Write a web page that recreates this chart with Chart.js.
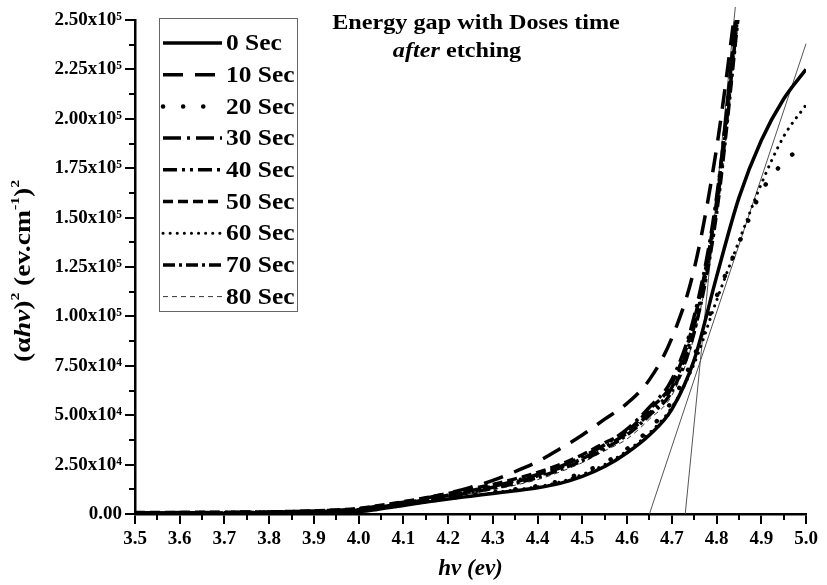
<!DOCTYPE html>
<html>
<head>
<meta charset="utf-8">
<script src="https://cdn.jsdelivr.net/npm/chart.js@4.4.1/dist/chart.umd.min.js"></script>
<style>
  html, body { margin: 0; padding: 0; background: #fff; }
  #wrap { width: 827px; height: 585px; }
</style>
</head>
<body>
<div id="wrap"><canvas id="gapChart" width="827" height="585"></canvas></div>
<script>
// photon energy hv (ev)
const energy = [3.50, 3.55, 3.60, 3.65, 3.70, 3.75, 3.80, 3.85, 3.90, 3.95, 4.00,
                4.05, 4.10, 4.15, 4.20, 4.25, 4.30, 4.35, 4.40, 4.45,
                4.50, 4.55, 4.60, 4.65, 4.70, 4.75, 4.80, 4.85, 4.90, 4.95, 5.00];

// (alpha hv)^2 for each dose time
const sec0  = [200, 220, 250, 280, 320, 360, 420, 500, 620, 800, 1200,
               2600, 4300, 6000, 7600, 9000, 10400, 11800, 13300, 15500,
               19000, 24000, 31000, 40000, 53000, 78000, 120000, 160000, 189000, 210000, 225000];
const sec10 = [600, 650, 700, 750, 800, 900, 1000, 1200, 1500, 1900, 2500,
               4200, 6000, 8000, 10500, 13500, 17000, 21500, 26500, 33000,
               40000, 48000, 56000, 68000, 89000, 124000, 185000, 270000, null, null, null];
const sec20 = [300, 320, 350, 380, 420, 470, 540, 630, 760, 950, 1500,
               2900, 4700, 6400, 8000, 9500, 11000, 12500, 14200, 16800,
               21000, 26000, 33000, 43000, 57000, 80000, 110000, 137000, 163000, 178000, 187000];
const sec30 = [500, 550, 600, 650, 700, 780, 870, 1000, 1200, 1500, 2200,
               3800, 5500, 7400, 9500, 11800, 14000, 16800, 20000, 24000,
               29000, 35000, 43000, 54000, 68000, 100000, 160000, 262000, null, null, null];
const sec40 = [450, 500, 550, 600, 650, 720, 800, 920, 1100, 1400, 2000,
               3600, 5300, 7100, 9100, 11300, 13500, 16200, 19300, 23300,
               28000, 34000, 41000, 51000, 64000, 95000, 155000, 258000, null, null, null];
const sec50 = [700, 750, 800, 850, 900, 1000, 1100, 1300, 1600, 2000, 2800,
               4400, 6200, 8200, 10400, 12600, 15000, 17800, 21000, 25000,
               30000, 36000, 42000, 53000, 66000, 98000, 158000, 266000, null, null, null];
const sec60 = [250, 270, 300, 330, 370, 420, 480, 560, 680, 870, 1300,
               2700, 4400, 6100, 7700, 9200, 10700, 12200, 13800, 16200,
               20000, 25000, 32000, 41000, 54000, 76000, 108000, 138000, 167000, 191000, 207000];
const sec70 = [400, 440, 480, 520, 570, 630, 700, 820, 1000, 1300, 1900,
               3400, 5100, 6900, 8800, 10900, 13000, 15500, 18500, 22500,
               27000, 33000, 40000, 50000, 62000, 92000, 152000, 255000, null, null, null];
const sec80 = [350, 380, 420, 460, 500, 560, 630, 740, 900, 1150, 1700,
               3200, 4900, 6600, 8400, 10300, 12300, 14600, 17400, 21300,
               26000, 32000, 38000, 48000, 60000, 90000, 150000, 252000, null, null, null];

const seriesLabels = ['0 Sec', '10 Sec', '20 Sec', '30 Sec', '40 Sec', '50 Sec', '60 Sec', '70 Sec', '80 Sec'];
const seriesValues = [sec0, sec10, sec20, sec30, sec40, sec50, sec60, sec70, sec80];

// tangent lines used to read the gap
const tangentA = [[4.65, 0], [5.00, 238000]];
const tangentB = [[4.73, 0], [4.842, 256600]];

const xTicks = { min: 3.5, max: 5.0, step: 0.1 };
const yTicks = { min: 0, max: 250000, step: 25000 };

const SERIF = '"Liberation Serif", "Times New Roman", serif';

// line looks, same order as the labels
const looks = [
  { width: 3.5, dash: [], cap: 'butt' },
  { width: 3.5, dash: [20, 12], cap: 'butt' },
  { width: 4.5, dash: [0.1, 20], cap: 'round' },
  { width: 3.5, dash: [18, 6, 3, 6], cap: 'butt' },
  { width: 3.5, dash: [14, 5, 3, 5, 3, 5], cap: 'butt' },
  { width: 3.5, dash: [10, 5], cap: 'butt' },
  { width: 3, dash: [0.1, 7], cap: 'round' },
  { width: 3.5, dash: [12, 4, 3, 4], cap: 'butt' },
  { width: 1, dash: [5, 4], cap: 'butt' }
];

const sup = { '4': '\u2074', '5': '\u2075' };
function fmtY(v) {
  if (v === 0) return '0.00';
  const e = Math.floor(Math.log10(v) + 1e-9);
  const m = v / Math.pow(10, e);
  return m.toFixed(2) + 'x10' + sup[String(e)];
}

const datasets = seriesValues.map((arr, i) => ({
  label: seriesLabels[i],
  data: energy.map((x, j) => ({ x: x, y: arr[j] })),
  borderColor: i === 8 ? '#333' : '#000',
  borderWidth: looks[i].width,
  borderDash: looks[i].dash,
  borderCapStyle: looks[i].cap,
  pointRadius: 0,
  fill: false,
  cubicInterpolationMode: 'monotone',
  spanGaps: false
}));

[tangentA, tangentB].forEach(t => {
  datasets.push({
    label: '',
    data: t.map(p => ({ x: p[0], y: p[1] })),
    borderColor: '#555',
    borderWidth: 1,
    pointRadius: 0,
    tension: 0,
    clip: false
  });
});

// text drawn a bit wider, like the original figure
function wideText(ctx, parts, x, y, stretch) {
  let total = 0;
  parts.forEach(p => { ctx.font = p.f; p.w = ctx.measureText(p.t).width; total += p.w; });
  ctx.save();
  ctx.translate(x, y);
  ctx.scale(stretch, 1);
  let cx = -total / 2;
  parts.forEach(p => { ctx.font = p.f; ctx.fillText(p.t, cx, p.dy || 0); cx += p.w; });
  ctx.restore();
}

// minor ticks, titles and the boxed legend
const extras = {
  id: 'extras',
  afterDraw(chart) {
    const ctx = chart.ctx;
    const xs = chart.scales.x, ys = chart.scales.y;
    const area = chart.chartArea;
    ctx.save();
    ctx.strokeStyle = '#000';
    ctx.lineWidth = 2;
    // minor ticks
    for (let v = xTicks.min + xTicks.step / 2; v < xTicks.max; v += xTicks.step) {
      const px = Math.round(xs.getPixelForValue(v));
      ctx.beginPath(); ctx.moveTo(px, area.bottom); ctx.lineTo(px, area.bottom + 6); ctx.stroke();
    }
    for (let v = yTicks.step / 2; v < yTicks.max; v += yTicks.step) {
      const py = Math.round(ys.getPixelForValue(v));
      ctx.beginPath(); ctx.moveTo(area.left, py); ctx.lineTo(area.left - 6, py); ctx.stroke();
    }

    ctx.fillStyle = '#000';
    ctx.textBaseline = 'alphabetic';
    ctx.textAlign = 'left';
    // chart title
    wideText(ctx, [{ t: 'Energy gap with Doses time', f: 'bold 22px ' + SERIF }], 476, 29, 1.1);
    wideText(ctx, [
      { t: 'after ', f: 'italic bold 22px ' + SERIF },
      { t: 'etching', f: 'bold 22px ' + SERIF }
    ], 457, 57, 1.1);

    // y axis title
    ctx.save();
    ctx.translate(30, 271);
    ctx.rotate(-Math.PI / 2);
    wideText(ctx, [
      { t: '(\u03b1', f: 'bold 23px ' + SERIF },
      { t: 'hv', f: 'italic bold 23px ' + SERIF },
      { t: ')', f: 'bold 23px ' + SERIF },
      { t: '2', f: 'bold 13px ' + SERIF, dy: -11 },
      { t: ' (ev.cm', f: 'bold 23px ' + SERIF },
      { t: '-1', f: 'bold 13px ' + SERIF, dy: -11 },
      { t: ')', f: 'bold 23px ' + SERIF },
      { t: '2', f: 'bold 13px ' + SERIF, dy: -11 }
    ], 0, 0, 1.2);
    ctx.restore();

    // legend box
    const box = { l: 159, t: 18, r: 297, b: 311 };
    ctx.fillStyle = '#fff';
    ctx.fillRect(box.l, box.t, box.r - box.l, box.b - box.t);
    ctx.strokeStyle = '#666';
    ctx.lineWidth = 1;
    ctx.strokeRect(box.l + 0.5, box.t + 0.5, box.r - box.l, box.b - box.t);
    ctx.font = 'bold 24px ' + SERIF;
    ctx.textBaseline = 'middle';
    ctx.fillStyle = '#000';
    seriesLabels.forEach((lab, i) => {
      const ds = chart.data.datasets[i];
      const y = 43 + i * 31.7;
      ctx.save();
      ctx.strokeStyle = ds.borderColor;
      ctx.lineWidth = ds.borderWidth;
      ctx.lineCap = ds.borderCapStyle;
      ctx.setLineDash(ds.borderDash);
      ctx.beginPath(); ctx.moveTo(163, y); ctx.lineTo(222, y); ctx.stroke();
      ctx.restore();
      ctx.save();
      ctx.translate(226, y + 1);
      ctx.scale(1.06, 1);
      ctx.fillText(lab, 0, 0);
      ctx.restore();
    });
    ctx.restore();
  }
};

function axisLook() {
  return {
    grid: { drawOnChartArea: false, tickLength: 10, color: '#000', lineWidth: 2 },
    border: { color: '#000', width: 2.5 }
  };
}

new Chart(document.getElementById('gapChart').getContext('2d'), {
  type: 'line',
  data: { datasets: datasets },
  options: {
    responsive: false,
    animation: false,
    devicePixelRatio: 1,
    layout: { padding: { left: 0, right: 21, top: 20, bottom: 0 } },
    plugins: { legend: { display: false }, tooltip: { enabled: false }, title: { display: false } },
    scales: {
      x: Object.assign(axisLook(), {
        type: 'linear',
        min: xTicks.min,
        max: xTicks.max,
        ticks: {
          stepSize: xTicks.step,
          autoSkip: false,
          maxRotation: 0,
          padding: 4,
          color: '#000',
          font: { family: SERIF, weight: 'bold', size: 19 },
          callback: v => Number(v).toFixed(1)
        },
        title: {
          display: true,
          text: 'hv (ev)',
          color: '#000',
          font: { family: SERIF, style: 'italic', weight: 'bold', size: 23 },
          padding: { top: 0, bottom: 2 }
        },
        afterFit: s => { s.height = 71; }
      }),
      y: Object.assign(axisLook(), {
        type: 'linear',
        min: yTicks.min,
        max: yTicks.max,
        ticks: {
          stepSize: yTicks.step,
          padding: 3,
          color: '#000',
          font: { family: SERIF, weight: 'bold', size: 19 },
          callback: v => fmtY(v)
        },
        afterFit: s => { s.width = 135; }
      })
    }
  },
  plugins: [extras]
});
</script>
</body>
</html>
